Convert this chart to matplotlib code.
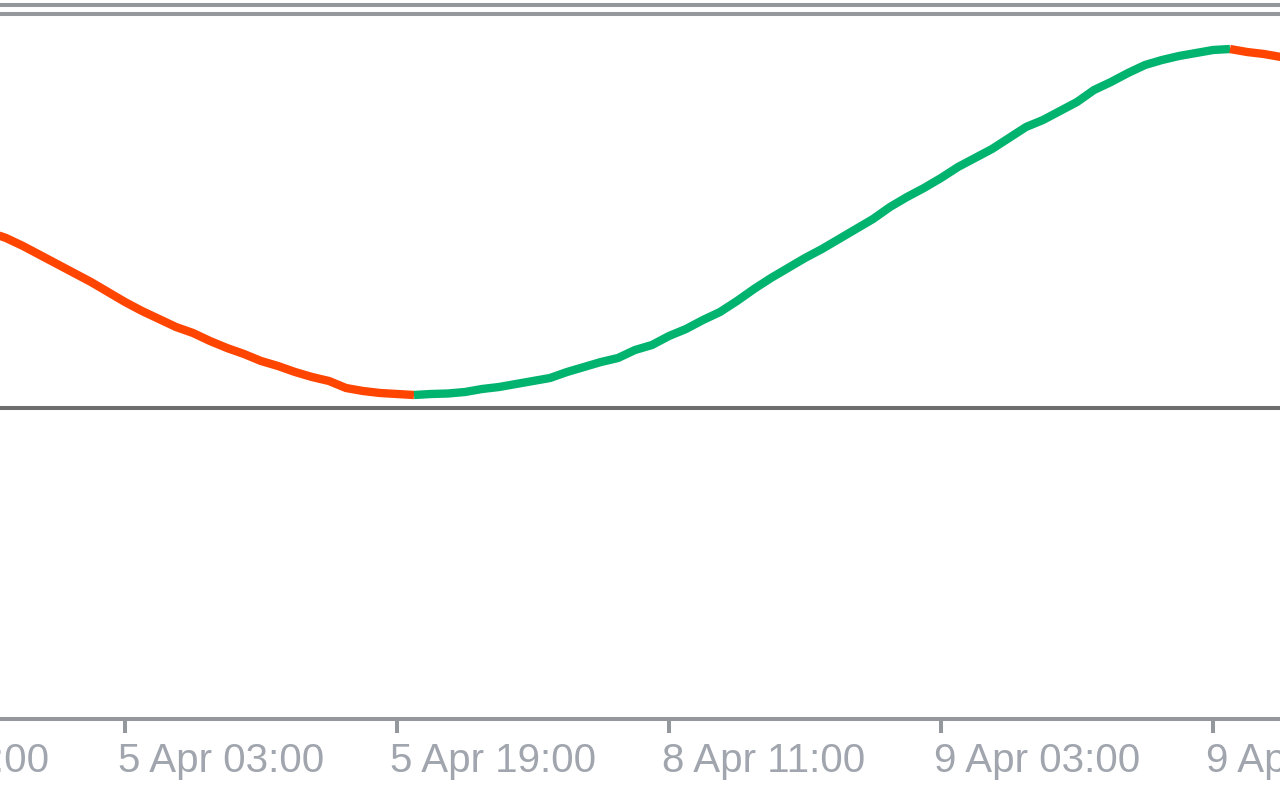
import numpy as np
import matplotlib.pyplot as plt
from matplotlib.lines import Line2D
from matplotlib.transforms import blended_transform_factory

# H1 bars, index 0 = 5 Apr 03:00
bars = np.arange(-8, 69)
values = [176, 170, 162, 153, 144, 135, 126, 116,
          106, 97, 89, 81, 75, 67, 60, 54, 47, 42, 36, 31, 27, 20, 17, 15,
          14, 13, 14, 14.5, 16, 19, 21, 24, 27, 30, 36, 41, 46, 50, 58, 63,
          72, 79, 88, 96, 107, 119, 130, 140, 150, 159, 169, 179, 189, 201, 211, 220,
          230, 241, 250, 259, 270, 281, 288, 297, 306, 318, 326, 335, 343, 348, 352, 355,
          358, 359, 356, 354, 351]
tick_bars = [-16, 0, 16, 32, 48, 64]
tick_labels = ["4 Apr 11:00", "5 Apr 03:00", "5 Apr 19:00",
               "8 Apr 11:00", "9 Apr 03:00", "9 Apr 19:00"]
level = 0

col_up = '#00b36e'
col_down = '#ff4500'
grey = '#94979c'

fig = plt.figure(figsize=(12.8, 8), dpi=100)
fig.patch.set_facecolor('white')
ax = fig.add_axes([0, 81 / 800, 1, 702 / 800])

# level line
ax.axhline(level, color='#6e6e6e', lw=2.9, zorder=1)

# colour by slope, draw each run as one polyline
v = np.array(values, dtype=float)
up = v[1:] > v[:-1]
start = 0
for i in range(1, len(up) + 1):
    if i == len(up) or up[i] != up[start]:
        ax.plot(bars[start:i + 1], v[start:i + 1], color=col_up if up[start] else col_down,
                lw=6, solid_capstyle='butt', solid_joinstyle='miter', zorder=3)
        start = i

ax.set_xlim(-125 / 17, (1280 - 125) / 17)
ax.set_ylim(-311, 391)
ax.set_yticks([])
ax.set_xticks([b for b in tick_bars if b >= 0])
ax.tick_params(axis='x', length=10, width=2.9, color=grey, labelbottom=False, direction='out')
for s in ['left', 'right', 'top']:
    ax.spines[s].set_visible(False)
ax.spines['bottom'].set_color(grey)
ax.spines['bottom'].set_linewidth(2.9)

# date labels sit right of their tick, the outer ones run off the window edge
trans = blended_transform_factory(ax.transData, fig.transFigure)
for b, lab in zip(tick_bars, tick_labels):
    ax.text(b - 0.4, 1 - 772 / 800, lab, transform=trans, ha='left', va='baseline',
            fontsize=29, family='Liberation Sans', color='#a0a5ae', clip_on=False)

# window border lines at top
for yp in [5, 14]:
    fig.add_artist(Line2D([0, 1], [1 - yp / 800] * 2, transform=fig.transFigure,
                          color=grey, lw=2.9))

fig.savefig('out.png', dpi=100)
